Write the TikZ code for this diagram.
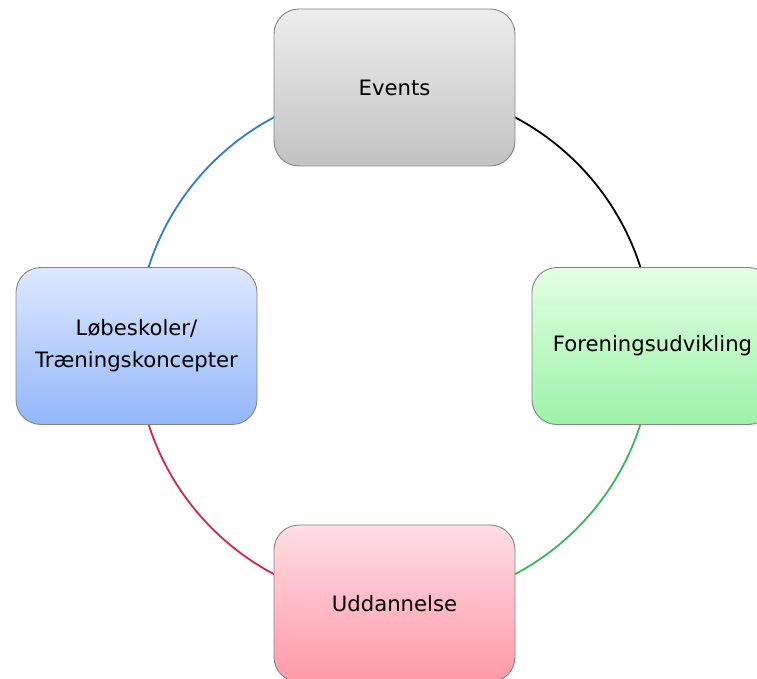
\documentclass[tikz,border=0pt]{standalone}
\usepackage{fontspec}
\setmainfont{DejaVu Sans}
\usetikzlibrary{backgrounds}
\definecolor{arcblue}{HTML}{2F7BCC}
\definecolor{arcred}{HTML}{D9244A}
\definecolor{arcgreen}{HTML}{3BB55A}
\definecolor{boxedge}{HTML}{858585}
\definecolor{grayTop}{HTML}{EDEDED}
\definecolor{grayBot}{HTML}{C2C2C2}
\definecolor{greenTop}{HTML}{E3FFE3}
\definecolor{greenBot}{HTML}{9CF2A8}
\definecolor{blueTop}{HTML}{DEE8FF}
\definecolor{blueBot}{HTML}{92B7FA}
\definecolor{pinkTop}{HTML}{FFDEE4}
\definecolor{pinkBot}{HTML}{FF98A7}
\tikzset{
  cyclebox/.style={draw=boxedge, line width=0.9pt, rounded corners=25pt,
    minimum width=241pt, minimum height=157pt, inner sep=0pt,
    align=center, font=\fontsize{21.2pt}{31.7pt}\selectfont, text=black},
  arcline/.style={line width=1.8pt}
}
\begin{document}
\begin{tikzpicture}[x=1pt,y=1pt]
\useasboundingbox (0,0) rectangle (757,678);
\clip (0,0) rectangle (757,678);
\node[cyclebox, top color=grayTop, bottom color=grayBot] (ev) at (394.5,590.5) {Events};
\node[cyclebox, top color=greenTop, bottom color=greenBot] (fo) at (652.5,332) {Foreningsudvikling};
\node[cyclebox, top color=blueTop, bottom color=blueBot] (lb) at (136.5,332) {Løbeskoler/\\Træningskoncepter};
\node[cyclebox, top color=pinkTop, bottom color=pinkBot] (ud) at (394.5,74.5) {Uddannelse};
\begin{scope}[on background layer]
  \draw[arcline, arcblue] (ev.center) arc[start angle=90, end angle=180, radius=258];
  \draw[arcline, black] (ev.center) arc[start angle=90, end angle=0, radius=258];
  \draw[arcline, arcgreen] (fo.center) arc[start angle=0, end angle=-90, radius=258];
  \draw[arcline, arcred] (lb.center) arc[start angle=180, end angle=270, radius=258];
\end{scope}
\end{tikzpicture}
\end{document}
